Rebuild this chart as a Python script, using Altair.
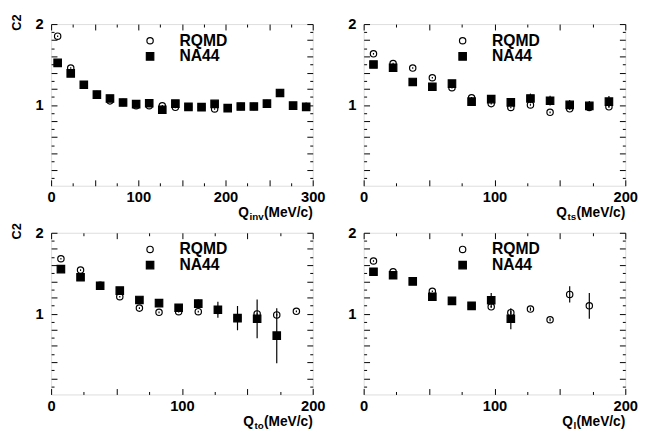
import altair as alt
import pandas as pd

FONT = "Liberation Sans"

# ---- data ----
qinv_x = [7.5, 22.5, 37.5, 52.5, 67.5, 82.5, 97.5, 112.5, 127.5, 142.5, 157.5, 172.5,
          187.5, 202.5, 217.5, 232.5, 247.5, 262.5, 277.5, 292.5]
qinv_rqmd = [1.85, 1.456, 1.25, 1.13, 1.05, 1.03, 0.99, 0.99, 0.99, 0.97, 0.976, 0.97,
             0.95, 0.96, 0.98, 0.98, 1.016, 1.15, 0.99, 0.98]
qinv_rqmd_err = [0.01] * 20
qinv_na44 = [1.52, 1.39, 1.25, 1.128, 1.08, 1.03, 1.01, 1.02, 0.94, 1.016, 0.976, 0.972,
             1.012, 0.96, 0.98, 0.98, 1.016, 1.148, 0.992, 0.976]
qinv_na44_err = [0.02, 0.02, 0.015, 0.015, 0.015, 0.015, 0.015, 0.015, 0.015, 0.015, 0.015,
                 0.015, 0.015, 0.015, 0.02, 0.02, 0.02, 0.04, 0.04, 0.05]

qts_x = [7.5, 22.5, 37.5, 52.5, 67.5, 82.5, 97.5, 112.5, 127.5, 142.5, 157.5, 172.5, 187.5]
qts_rqmd = [1.632, 1.512, 1.456, 1.336, 1.212, 1.088, 1.016, 0.968, 1.0, 0.908, 0.952, 0.968, 0.976]
qts_rqmd_err = [0.01] * 13
qts_na44 = [1.5, 1.46, 1.284, 1.224, 1.264, 1.04, 1.072, 1.032, 1.08, 1.052, 1.0, 0.988, 1.04]
qts_na44_err = [0.04, 0.04, 0.03, 0.03, 0.04, 0.03, 0.04, 0.04, 0.06, 0.06, 0.06, 0.06, 0.07]

qto_x_rqmd = [7.5, 22.5, 37.5, 52.5, 67.5, 82.5, 97.5, 112.5, 127.5, 142.5, 157.5, 172.5, 187.5]
qto_rqmd = [1.679, 1.538, 1.35, 1.209, 1.068, 1.016, 1.024, 1.024, 1.04, 0.95, 0.996, 0.984, 1.028]
qto_rqmd_err = [0.01] * 13
qto_x_na44 = [7.5, 22.5, 37.5, 52.5, 67.5, 82.5, 97.5, 112.5, 127.5, 142.5, 157.5, 172.5]
qto_na44 = [1.55, 1.45, 1.345, 1.285, 1.169, 1.129, 1.072, 1.124, 1.048, 0.944, 0.936, 0.727]
qto_na44_err = [0.02, 0.02, 0.02, 0.02, 0.03, 0.03, 0.04, 0.05, 0.1, 0.15, 0.24, 0.34]

ql_x_rqmd = [7.5, 22.5, 37.5, 52.5, 67.5, 82.5, 97.5, 112.5, 127.5, 142.5, 157.5, 172.5]
ql_rqmd = [1.651, 1.518, 1.40, 1.277, 1.157, 1.096, 1.084, 1.012, 1.056, 0.924, 1.237, 1.096]
ql_rqmd_err = [0.01, 0.01, 0.01, 0.01, 0.01, 0.01, 0.01, 0.02, 0.02, 0.02, 0.1, 0.16]
ql_x_na44 = [7.5, 22.5, 37.5, 52.5, 67.5, 82.5, 97.5, 112.5]
ql_na44 = [1.518, 1.474, 1.398, 1.209, 1.157, 1.096, 1.165, 0.936]
ql_na44_err = [0.02, 0.02, 0.02, 0.02, 0.02, 0.03, 0.09, 0.13]

y_ticks_major = [0.2, 0.4, 0.6, 0.8, 1.0, 1.2, 1.4, 1.6, 1.8, 2.0]
y_ticks_minor = [0.1, 0.3, 0.5, 0.7, 0.9, 1.1, 1.3, 1.5, 1.7, 1.9]
x_major_200 = [0, 50, 100, 150, 200]
x_minor_200 = [25, 75, 125, 175]
x_major_300 = [0, 50, 100, 150, 200, 250, 300]
x_minor_300 = [25, 75, 125, 175, 225, 275]

W, H = 267, 165
LONG, SHORT = 6, 3


def frame_df(xr, yr, er, xn, yn, en):
    rows = []
    for x, y, e in zip(xr, yr, er):
        rows.append({"x": x, "y": y, "err": e, "series": "RQMD"})
    for x, y, e in zip(xn, yn, en):
        rows.append({"x": x, "y": y, "err": e, "series": "NA44"})
    df = pd.DataFrame(rows)
    df["lo"] = df["y"] - df["err"]
    df["hi"] = df["y"] + df["err"]
    return df


def tick_axis(orient, values, size):
    return alt.Axis(orient=orient, values=values, labels=False, title=None, domain=False,
                    grid=False, tickColor="black", tickSize=size, offset=-size, tickWidth=1)


def panel(df, xmax, xmajor, xminor, sub, sub_w, ytitle):
    xs = alt.Scale(domain=[0, xmax], nice=False, zero=False)
    ys = alt.Scale(domain=[0, 2], nice=False, zero=False)
    common = dict(domain=False, grid=False, tickColor="black", tickSize=LONG, offset=-LONG,
                  tickWidth=1)
    x_bottom = alt.Axis(values=xmajor, format="d",
                        labelExpr="datum.value % 100 == 0 ? datum.label : ''",
                        labelFont=FONT, labelFontSize=15, labelFontWeight="bold",
                        labelColor="black", labelPadding=4, labelFlush=False,
                        labelOverlap=False, title=None, **common)
    y_kwargs = dict(values=y_ticks_major, format="~g",
                    labelExpr="(datum.value == 1 || datum.value == 2) ? datum.label : ''",
                    labelFont=FONT, labelFontSize=15, labelFontWeight="bold",
                    labelColor="black", labelPadding=8, labelFlush=False,
                    labelOverlap=False, **common)
    if ytitle:
        y_left = alt.Axis(title="C2", titleFont=FONT, titleFontSize=13, titleFontWeight="bold",
                          titleColor="black", titleAngle=270, titleX=-41, titleY=-2,
                          titleAlign="center", titleBaseline="middle", **y_kwargs)
    else:
        y_left = alt.Axis(title=None, **y_kwargs)

    errs = alt.Chart(df).mark_rule(color="black", strokeWidth=1.2).encode(
        x=alt.X("x:Q", scale=xs, axis=x_bottom),
        y=alt.Y("lo:Q", scale=ys, axis=y_left),
        y2="hi:Q",
    )
    leg = dict(orient="none", legendX=93, legendY=9, padding=0, rowPadding=0, title=None,
               labelFont=FONT, labelFontSize=16, labelFontWeight="bold", labelColor="black",
               labelOffset=22, symbolStrokeWidth=1.2)
    dom = ["RQMD", "NA44"]
    pts = alt.Chart(df).mark_point(opacity=1, strokeWidth=1.2).encode(
        x=alt.X("x:Q", scale=xs, axis=tick_axis("top", xmajor, LONG)),
        y=alt.Y("y:Q", scale=ys, axis=tick_axis("right", y_ticks_major, LONG)),
        shape=alt.Shape("series:N", scale=alt.Scale(domain=dom, range=["circle", "square"]),
                        legend=alt.Legend(**leg)),
        fill=alt.Fill("series:N", scale=alt.Scale(domain=dom, range=["transparent", "black"]),
                      legend=alt.Legend(**leg)),
        stroke=alt.Stroke("series:N", scale=alt.Scale(domain=dom, range=["black", "black"]),
                          legend=alt.Legend(**leg)),
        size=alt.Size("series:N", scale=alt.Scale(domain=dom, range=[42, 58]),
                      legend=alt.Legend(**leg)),
    )
    minor_a = alt.Chart(df).mark_point(opacity=0).encode(
        x=alt.X("x:Q", scale=xs, axis=tick_axis("bottom", xminor, SHORT)),
        y=alt.Y("y:Q", scale=ys, axis=tick_axis("left", y_ticks_minor, SHORT)),
    )
    minor_b = alt.Chart(df).mark_point(opacity=0).encode(
        x=alt.X("x:Q", scale=xs, axis=tick_axis("top", xminor, SHORT)),
        y=alt.Y("y:Q", scale=ys, axis=tick_axis("right", y_ticks_minor, SHORT)),
    )
    one = alt.Data(values=[{"k": 1}])
    base_y = H + 32
    t1 = alt.Chart(one).mark_text(align="right", baseline="alphabetic", font=FONT, fontSize=14,
                                  fontWeight="bold", color="black").encode(
        x=alt.value(W), y=alt.value(base_y), text=alt.value("(MeV/c)"))
    t2 = alt.Chart(one).mark_text(align="right", baseline="alphabetic", font=FONT, fontSize=10,
                                  fontWeight="bold", color="black", dx=-50, dy=3).encode(
        x=alt.value(W), y=alt.value(base_y), text=alt.value(sub))
    t3 = alt.Chart(one).mark_text(align="right", baseline="alphabetic", font=FONT, fontSize=14,
                                  fontWeight="bold", color="black", dx=-50 - sub_w).encode(
        x=alt.value(W), y=alt.value(base_y), text=alt.value("Q"))
    return alt.layer(errs, pts, minor_a, minor_b, t1, t2, t3).resolve_axis(
        x="independent", y="independent").properties(width=W, height=H)


p1 = panel(frame_df(qinv_x, qinv_rqmd, qinv_rqmd_err, qinv_x, qinv_na44, qinv_na44_err),
           300, x_major_300, x_minor_300, "inv", 15, True)
p2 = panel(frame_df(qts_x, qts_rqmd, qts_rqmd_err, qts_x, qts_na44, qts_na44_err),
           200, x_major_200, x_minor_200, "ts", 9.5, False)
p3 = panel(frame_df(qto_x_rqmd, qto_rqmd, qto_rqmd_err, qto_x_na44, qto_na44, qto_na44_err),
           200, x_major_200, x_minor_200, "to", 10, True)
p4 = panel(frame_df(ql_x_rqmd, ql_rqmd, ql_rqmd_err, ql_x_na44, ql_na44, ql_na44_err),
           200, x_major_200, x_minor_200, "l", 3.5, False)

res = dict(x="independent", y="independent", shape="independent", fill="independent",
           stroke="independent", size="independent")
chart = alt.concat(p1, p2, p3, p4, columns=2, spacing={"row": 48, "column": 52},
                   bounds="flush").resolve_scale(**res).resolve_legend(
    shape="independent", fill="independent", stroke="independent",
    size="independent").properties(
    padding={"left": 2, "top": 1, "right": 0, "bottom": 0}).configure_view(
    stroke="black", strokeWidth=1.2).configure(background="white")

chart.save("out.html", embed_options={"renderer": "svg", "actions": False})
